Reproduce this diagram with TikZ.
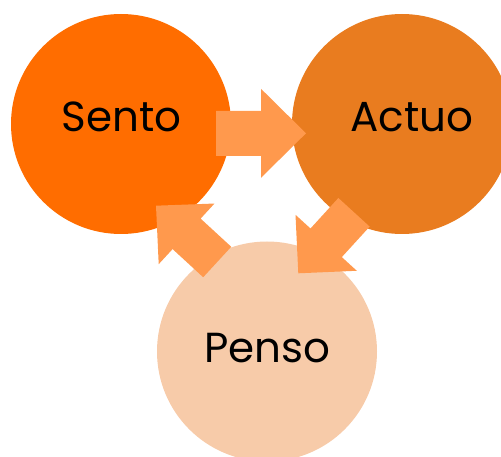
\documentclass[tikz,border=0pt]{standalone}
\usepackage{fontspec}
\setmainfont{Poppins}
\usetikzlibrary{calc}
\definecolor{sentoc}{HTML}{FF6D00}
\definecolor{actuoc}{HTML}{E97C1F}
\definecolor{pensoc}{HTML}{F7CBA9}
\definecolor{arrowc}{HTML}{FF994D}
\tikzset{
  bubble/.style={circle, minimum size=220pt, inner sep=0pt, draw=none},
  word/.style={anchor=base, font=\fontsize{42}{42}\selectfont, text=black, inner sep=0pt},
  arrowfill/.style={fill=arrowc, draw=none}
}
\newcommand{\barrow}[5]{%
  \coordinate (#1n) at ($(#2)!0.5!(#3)$);
  \fill[arrowfill] ($(#2)!#4!90:(#3)$) -- ($(#1n)!#4!90:(#3)$) -- ($(#1n)!#5!90:(#3)$) -- (#3)
    -- ($(#1n)!#5!-90:(#3)$) -- ($(#1n)!#4!-90:(#3)$) -- ($(#2)!#4!-90:(#3)$) -- cycle;}
\begin{document}
\begin{tikzpicture}[x=1pt, y=-1pt]
  \useasboundingbox (0,0) rectangle (501,457);
  \clip (0,0) rectangle (501,457);
  \node[bubble, fill=sentoc] (sento) at (121,124) {};
  \node[bubble, fill=actuoc] (actuo) at (402,124) {};
  \node[bubble, fill=pensoc] (penso) at (267,351.5) {};
  \node[word] (tsento) at (121.5,132) {Sento};
  \node[word] (tactuo) at (412,132) {Actuo};
  \node[word] (tpenso) at (267.5,362) {Penso};
  \coordinate (a1s) at (216,133.3);
  \coordinate (a1e) at (306,133.3);
  \coordinate (a2s) at (354,212.3);
  \coordinate (a2e) at (298.3,273.3);
  \coordinate (a3s) at (217.2,262);
  \coordinate (a3e) at (156,205.7);
  \barrow{a1}{a1s}{a1e}{22.5pt}{44.5pt}
  \barrow{a2}{a2s}{a2e}{21.2pt}{41.5pt}
  \barrow{a3}{a3s}{a3e}{20.7pt}{41.2pt}
\end{tikzpicture}
\end{document}
